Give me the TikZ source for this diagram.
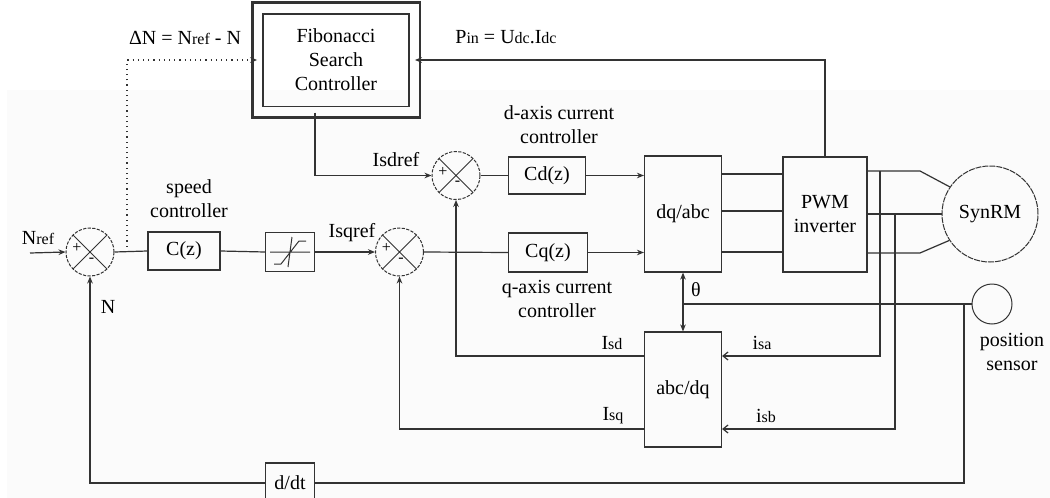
\documentclass[tikz,border=0pt]{standalone}
\usepackage{fontspec}
\setmainfont{Liberation Serif}
\usetikzlibrary{calc,arrows.meta}

\tikzset{
	blk/.style={draw, line width=0.6pt, inner sep=0pt, align=center},
	sumnode/.style={circle, draw, line width=0.5pt, dash pattern=on 1.6pt off 0.7pt,
		minimum size=24pt, inner sep=0pt,
		path picture={
			\draw[solid, line width=0.5pt] (path picture bounding box.north west) -- (path picture bounding box.south east)
				(path picture bounding box.north east) -- (path picture bounding box.south west);
			\node[font=\footnotesize, inner sep=0pt] at ([shift={(-6.5pt,2pt)}]path picture bounding box.center) {+};
			\node[font=\footnotesize, inner sep=0pt] at ([shift={(0.8pt,-4pt)}]path picture bounding box.center) {-};
		}},
	lbl/.style={inner sep=0pt, align=center},
	arr/.style={-{Stealth[length=3.5pt, width=2.8pt]}},
	oarr/.style={-{Straight Barb[length=2.5pt, width=4pt]}},
}
\newcommand{\lo}[1]{{\footnotesize #1}}

\begin{document}
\begin{tikzpicture}[x=0.5pt, y=-0.5pt, font=\normalsize, line width=0.6pt, draw=black!80]
	\useasboundingbox (0,0) rectangle (1050,498);
	\fill[black!1.5] (7,90) rectangle (1050,498);

	% speed loop
	\node[sumnode] (sumN) at (90,252) {};
	\node[blk, minimum width=36pt, minimum height=19pt] (cz) at (184,251) {C(z)};
	\node[blk, minimum width=24.5pt, minimum height=19.5pt] (sat) at (290,252) {};
	\draw[line width=0.5pt] ([shift={(-20,0)}]sat.center) -- ([shift={(20,0)}]sat.center)
		([shift={(2,-15)}]sat.center) -- ([shift={(-2,15)}]sat.center)
		([shift={(-16,12)}]sat.center) -- ([shift={(-9,12)}]sat.center) -- ([shift={(9,-11)}]sat.center) -- ([shift={(16,-11)}]sat.center);
	\coordinate (nin) at (30,253);
	\coordinate (tapN) at (127,252);

	% current loops
	\node[sumnode] (sumD) at (456,175.5) {};
	\node[sumnode] (sumQ) at (399.5,252) {};
	\node[blk, minimum width=38.5pt, minimum height=18.5pt] (cd) at (547,175.5) {Cd(z)};
	\node[blk, minimum width=39.5pt, minimum height=19.5pt] (cq) at (548,252.5) {Cq(z)};
	\node[blk, minimum width=38.5pt, minimum height=58pt] (dqabc) at (683,214) {dq/abc};
	\node[blk, minimum width=38.5pt, minimum height=57.5pt] (abcdq) at (683,389.5) {abc/dq};
	\node[blk, minimum width=42pt, minimum height=57.5pt] (pwm) at (825,214.5) {PWM\\inverter};
	\node[circle, draw, line width=0.5pt, dash pattern=on 3pt off 0.5pt, minimum size=48pt, inner sep=0pt] (synrm) at (990,214) {SynRM};
	\node[circle, draw, line width=0.5pt, minimum size=20pt, inner sep=0pt] (sensor) at (992,304) {};
	\node[blk, minimum width=24.5pt, minimum height=20pt] (ddt) at (290,483) {d/dt};

	% Fibonacci controller
	\node[blk, line width=0.9pt, minimum width=72.7pt, minimum height=46.4pt, outer sep=3.1pt] (fsc) at (336,60) {Fibonacci\\Search\\Controller};
	\draw[line width=1.3pt] ([shift={(-2.45pt,2.45pt)}]fsc.north west) rectangle ([shift={(2.45pt,-2.45pt)}]fsc.south east);

	% connectors
	\draw[arr] (nin) -- (sumN.west);
	\draw (sumN.east) -- (cz.west);
	\draw (cz.east) -- (sat.west);
	\draw[arr] (sat.east) -- (sumQ.west);
	\draw (sumQ.east) -- (cq.west);
	\draw (sumD.east) -- (cd.west);
	\draw[arr] (cd.east) -- (cd.east -| dqabc.west);
	\draw[arr] (cq.east) -- (cq.east -| dqabc.west);
	\draw[dotted, arr] (tapN) |- (fsc.west);
	\draw[arr] (pwm.north) |- (fsc.east);
	\draw[arr] ([xshift=-10.5pt]fsc.south) |- (sumD.west);
	\foreach \yy in {174,211,252}
		\draw (dqabc.east |- 0,\yy) -- (pwm.west |- 0,\yy);
	\coordinate (ma) at (920,171);
	\coordinate (mc) at (920,253);
	\draw (pwm.east |- ma) -- (ma) -- (synrm.146);
	\draw (pwm.east |- synrm.west) -- (synrm.west);
	\draw (pwm.east |- mc) -- (mc) -- (synrm.213);
	\coordinate (ta) at (880,171);
	\coordinate (tb) at (895,214);
	\draw[oarr] (ta) |- ([yshift=16.75pt]abcdq.east);
	\draw[oarr] (tb) |- ([yshift=-19.75pt]abcdq.east);
	\draw[arr] ([yshift=16.75pt]abcdq.west) -| (sumD.south);
	\draw[arr] ([yshift=-19.75pt]abcdq.west) -| (sumQ.south);
	\draw[{Stealth[length=3.5pt, width=2.8pt]}-{Stealth[length=3.5pt, width=2.8pt]}] (dqabc.south) -- (abcdq.north);
	\draw (sensor.west) -- (dqabc.south |- sensor.west);
	\coordinate (ts) at (964,304);
	\draw (ts) |- (ddt.east);
	\draw[arr] (ddt.west) -| (sumN.south);

	% labels
	\node[lbl] (lnref) at (38,238) {N\lo{ref}};
	\node[lbl] (ln) at (108,307) {N};
	\node[lbl] (ldn) at (185,38) {ΔN = N\lo{ref} - N};
	\node[lbl] (lpin) at (506,37) {P\lo{in} = U\lo{dc}.I\lo{dc}};
	\node[lbl] (lsdref) at (396,160) {Isdref};
	\node[lbl] (lsqref) at (352,233) {Isqref};
	\node[lbl] (lspeed) at (189,199) {speed\\controller};
	\node[lbl] (ldax) at (559,125) {d-axis current\\controller};
	\node[lbl] (lqax) at (557,299) {q-axis current\\controller};
	\node[lbl] (lth) at (696,290) {θ};
	\node[lbl] (lisd) at (612,343) {I\lo{sd}};
	\node[lbl] (lisq) at (613,416) {I\lo{sq}};
	\node[lbl] (lisa) at (762,343) {i\lo{sa}};
	\node[lbl] (lisb) at (766,416) {i\lo{sb}};
	\node[lbl] (lpos) at (1012,352) {position\\sensor};
\end{tikzpicture}
\end{document}
